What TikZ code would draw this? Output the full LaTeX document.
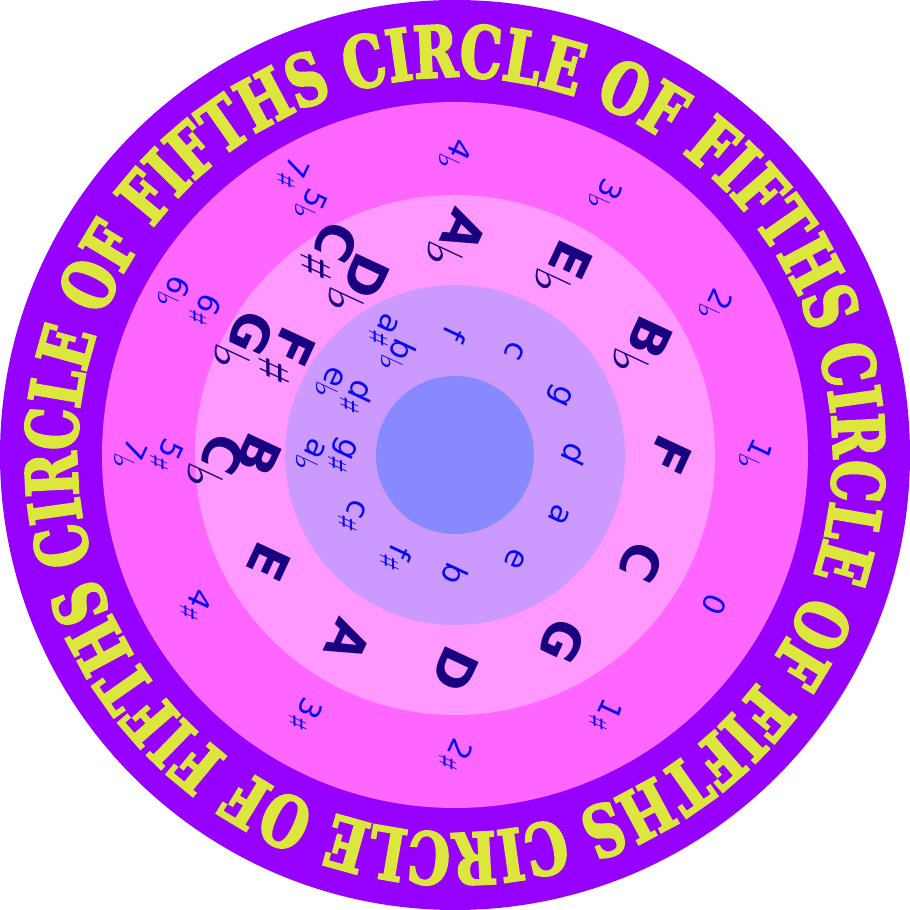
\documentclass[tikz,border=0pt]{standalone}
\usepackage{fontspec}
\usepackage{tikz}
\usetikzlibrary{decorations.text}
\setmainfont{DejaVu Sans}
\newfontfamily\accfont{DejaVu Sans}
\newfontfamily\titlefont[FakeStretch=0.74,FakeBold=3]{DejaVu Serif Bold}
\definecolor{ringouter}{RGB}{150,0,255}
\definecolor{ringsig}{RGB}{255,102,255}
\definecolor{ringmaj}{RGB}{255,153,255}
\definecolor{ringmin}{RGB}{204,153,255}
\definecolor{hubcol}{RGB}{136,136,255}
\definecolor{titlecol}{RGB}{220,230,60}
\definecolor{majcol}{RGB}{25,0,128}
\definecolor{mincol}{RGB}{10,10,240}
\newcommand{\flt}{\raisebox{-0.3ex}{\accfont\mdseries ♭}}
\newcommand{\shp}{\raisebox{-0.3ex}{\accfont\mdseries ♯}}

\begin{document}
\begin{tikzpicture}[
  majkey/.style={font=\bfseries\fontsize{14.5}{10}\selectfont, text=majcol,
                 inner sep=0pt, rotate=-115},
  minkey/.style={font=\fontsize{9}{9}\selectfont, text=mincol,
                 inner sep=0pt, rotate=-115},
  sigkey/.style={font=\fontsize{8.5}{10}\selectfont, text=mincol,
                 inner sep=0pt, rotate=-115},
  titleband/.style={decorate, decoration={text along path, text align=center,
                 text color=titlecol,
                 text={|\titlefont\fontsize{20.3}{24}\selectfont|CIRCLE OF FIFTHS}}}
]
\useasboundingbox (-4.55,-4.55) rectangle (4.55,4.55);

% rings
\fill[ringouter] (0,0) circle (4.55);
\fill[ringsig]   (0,0) circle (3.53);
\fill[ringmaj]   (0,0) circle (2.60);
\fill[ringmin]   (0,0) circle (1.70);
\fill[hubcol]    (0,0) circle (0.79);

% title round the rim
\foreach \c in {62.5,-27.5,-117.5,152.5}
  \path[titleband] ({\c+45}:3.78) arc[start angle=\c+45, end angle=\c-45, radius=3.78];

% keys with one name
\foreach \k/\maj/\mnr/\sig in {
    0/C/a/0, 1/G/e/1\shp, 2/D/b/2\shp, 3/A/f\shp/3\shp, 4/E/c\shp/4\shp,
    8/A\flt/f/4\flt, 9/E\flt/c/3\flt, 10/B\flt/g/2\flt, 11/F/d/1\flt}
{
  \node[majkey] (maj\k) at ({-30-30*\k}:2.15) {\maj};
  \node[minkey] (min\k) at ({-30-30*\k}:1.20) {\mnr};
  \node[sigkey] (sig\k) at ({-30-30*\k}:3.00) {\sig};
}

% keys with two names, one above the other along the radius
\foreach \k/\majin/\majout/\mnrin/\mnrout/\sigin/\sigout in {
    5/B/C\flt/g\shp/a\flt/5\shp/7\flt,
    6/F\shp/G\flt/d\shp/e\flt/6\shp/6\flt,
    7/D\flt/C\shp/b\flt/a\shp/5\flt/7\shp}
{
  \node[majkey] (maj\k in)  at ({-30-30*\k}:1.96) {\majin};
  \node[majkey] (maj\k out) at ({-28-30*\k}:2.40) {\majout};
  \node[minkey] (min\k in)  at ({-30-30*\k}:1.14) {\mnrin};
  \node[minkey] (min\k out) at ({-30-30*\k}:1.45) {\mnrout};
  \node[sigkey] (sig\k in)  at ({-30-30*\k}:2.89) {\sigin};
  \node[sigkey] (sig\k out) at ({-30-30*\k}:3.25) {\sigout};
}

\end{tikzpicture}
\end{document}
